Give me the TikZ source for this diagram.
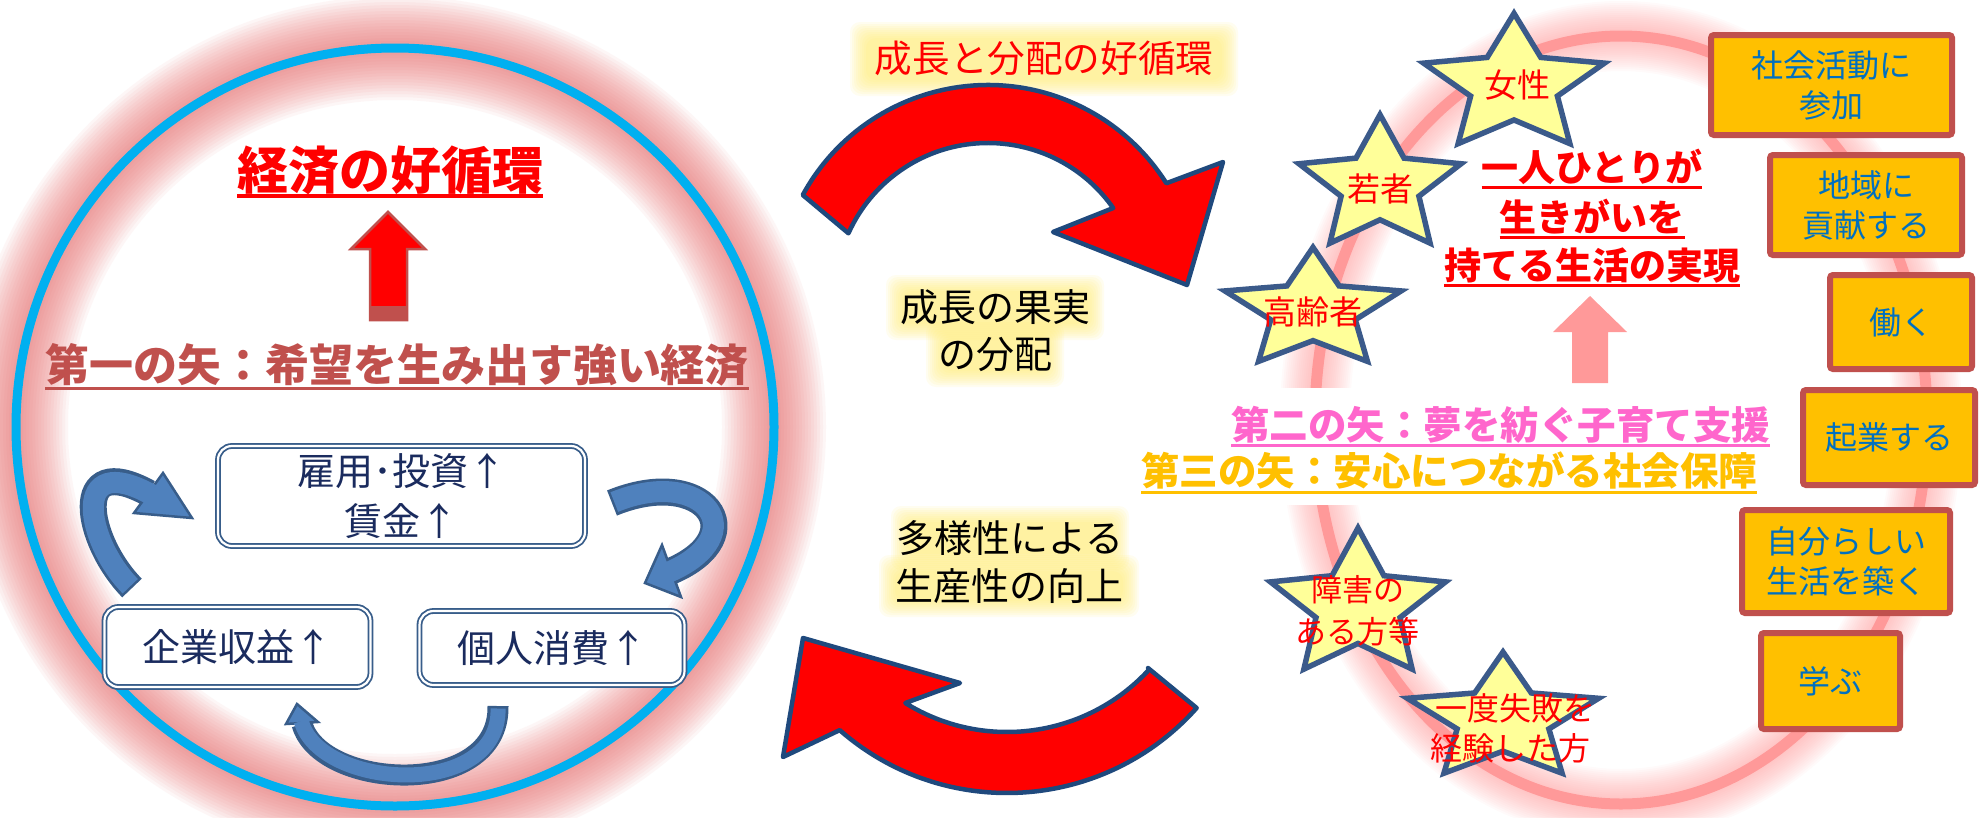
\documentclass[tikz,border=0pt]{standalone}
\usepackage{fontspec}
\setmainfont{Noto Sans CJK JP}
\usetikzlibrary{calc}
\definecolor{arrnavy}{HTML}{1F497D}
\definecolor{starfill}{HTML}{FFFF99}
\definecolor{stardraw}{HTML}{3B5A8A}
\definecolor{orfill}{HTML}{FFC000}
\definecolor{orborder}{HTML}{C0504D}
\definecolor{ortxt}{HTML}{0070C0}
\definecolor{boxblue}{HTML}{385D8A}
\definecolor{navytxt}{HTML}{1A2B5E}
\definecolor{darkred}{HTML}{C0504D}
\definecolor{ringblue}{HTML}{00B0F0}
\definecolor{glowpink}{RGB}{235,110,110}
\definecolor{glowpinkb}{RGB}{255,140,140}
\definecolor{ringpink}{HTML}{FF9999}
\definecolor{glowy}{RGB}{255,238,110}
\definecolor{magtxt}{HTML}{FF66CC}
\definecolor{yeltxt}{HTML}{FFC000}
\definecolor{bluedark}{HTML}{385D8A}
\definecolor{bluefill}{HTML}{4F81BD}
\newsavebox{\ulbox}
\newcommand{\ulx}[3]{\sbox{\ulbox}{#3}\rlap{\rule[-#1]{\wd\ulbox}{#2}}\usebox{\ulbox}}
\newcommand{\fsz}[2]{\fontsize{#1pt}{#2pt}\selectfont}
\newcommand{\drawstar}[4]{%
  \begin{scope}[shift={(#1,#2)}, xscale=#4]
    \pgfmathsetmacro{\rin}{0.48*#3}
    \draw[starsty] (-90:#3) -- (-54:\rin) -- (-18:#3) -- (18:\rin) -- (54:#3) -- (90:\rin) -- (126:#3) -- (162:\rin) -- (198:#3) -- (234:\rin) -- cycle;
  \end{scope}}
\newcommand{\glowrect}[4]{%
  \foreach \e in {16,14,...,0}
    \fill[glowy, opacity=0.1, rounded corners=10pt] (#1-\e,#2-\e) rectangle (#3+\e,#4+\e);}
\begin{document}
\begin{tikzpicture}[x=1pt,y=-1pt,
  every node/.style={inner sep=0pt, outer sep=0pt},
  redarr/.style={fill=red, draw=arrnavy, line width=4.5pt, line join=round},
  starsty/.style={fill=starfill, draw=stardraw, line width=5.5pt, line join=miter, miter limit=6},
  startxt/.style={text=red, font=\fsz{33}{41}, anchor=base},
  orbox/.style={rectangle, rounded corners=3pt, fill=orfill, draw=orborder, line width=6pt, text=ortxt, font=\fsz{32}{40}, align=center},
  lbox/.style={rectangle, rounded corners=14pt, fill=white, draw=boxblue, line width=1.8pt, double=white, double distance=2.2pt, text=navytxt, font=\fsz{38}{50}, align=center},
  midtxt/.style={font=\fsz{38}{47}, anchor=base},
  bandout/.style={draw=bluedark, line width=27pt},
  bandin/.style={draw=bluefill, line width=21pt, shorten >=-3pt, shorten <=2.5pt},
  bluehead/.style={fill=bluefill, draw=bluedark, line width=2.5pt, line join=miter}
]
\useasboundingbox (0,0) rectangle (1986,817);
\fill[white] (0,0) rectangle (1986,817);

% ---------- left circle with glow ----------
\coordinate (lc) at (395,427);
\foreach \w in {104,98,...,8}
  \draw[glowpink, line width=\w pt, opacity=0.06] (lc) circle[radius=379];
\draw[ringblue, line width=9pt] (lc) circle[radius=379];

% ---------- right ellipse ring with glow ----------
\coordinate (rc) at (1621,420);
\foreach \w in {70,66,...,14}
  \draw[glowpinkb, line width=\w pt, opacity=0.04] (rc) ellipse[x radius=306, y radius=384];
\draw[ringpink, line width=11pt] (rc) ellipse[x radius=306, y radius=384];
\fill[white] (1150,388) rectangle (1790,505);

% ---------- left circle content ----------
\node[anchor=base, text=red, font=\fsz{51}{60}\bfseries] (t1) at (390,189.4) {\ulx{8.3pt}{3.5pt}{経済の好循環}};
\draw[fill=red, draw=darkred, line width=2.5pt, line join=miter] (388,212) -- (425,249) -- (407,249) -- (407,320) -- (370,320) -- (370,249) -- (351,249) -- cycle;
\fill[darkred] (370,306) rectangle (407,321);
\node[anchor=base, text=darkred, font=\fsz{44}{52}\bfseries] (t2) at (397,381.5) {\ulx{8pt}{3pt}{第一の矢：希望を生み出す強い経済}};

\node[lbox, minimum width=367pt, minimum height=100pt] (kb) at (401.5,496) {雇用･投資↑\\賃金↑};
\node[lbox, minimum width=266pt, minimum height=80pt] (kg) at (237.5,647) {企業収益↑};
\node[lbox, minimum width=265pt, minimum height=74pt] (kj) at (552,648) {個人消費↑};

% blue curved arrows
\coordinate (aAs) at (132,588); \coordinate (aAe) at (148.5,493);
\draw[bandout] (aAs) .. controls (85,540) and (70,450) .. (aAe);
\filldraw[bluehead] (192,518) -- (163,473) -- (134,513) -- cycle;
\draw[bandin] (aAs) .. controls (85,540) and (70,450) .. (aAe);

\coordinate (aBs) at (612,503); \coordinate (aBe) at (671.5,571);
\draw[bandout] (aBs) .. controls (705,465) and (755,535) .. (aBe);
\filldraw[bluehead] (645,583) -- (662,545) -- (681,597) -- cycle;
\draw[bandin] (aBs) .. controls (705,465) and (755,535) .. (aBe);

\coordinate (aCs) at (498,706); \coordinate (aCe) at (302,724);
\draw[draw=bluedark, line width=21pt] (aCs) .. controls (500,800) and (320,790) .. (aCe);
\filldraw[bluehead] (297,704) -- (286,724) -- (318,722) -- cycle;
\draw[draw=bluefill, line width=15pt, shorten >=-3pt, shorten <=2.5pt] (aCs) .. controls (500,800) and (320,790) .. (aCe);

% ---------- middle ----------
\glowrect{866}{38}{1222}{80}
\node[midtxt, text=red, font=\fsz{37.6}{45}] (m1) at (1044,72.3) {成長と分配の好循環};
\draw[redarr] ([shift={(988,296)}]-151.4:211) arc[start angle=-151.4, end angle=-32.3, radius=211] -- (1223,162) -- (1187,285) -- (1053,232) -- ([shift={(988,296)}]-35.1:153) arc[start angle=-35.1, end angle=-155.8, radius=153] -- cycle;

\glowrect{902}{291}{1088}{324}
\glowrect{942}{338}{1048}{371}
\node[midtxt] (m2) at (995,321.4) {成長の果実};
\node[midtxt] (m3) at (995,368.4) {の分配};

\glowrect{907}{522}{1113}{554}
\glowrect{895}{571}{1123}{601}
\node[midtxt] (m4) at (1010,552.4) {多様性による};
\node[midtxt] (m5) at (1009,600.4) {生産性の向上};

\draw[redarr] (1148,668) -- ([shift={(1007,539)}]41.7:254) arc[start angle=41.7, end angle=131.2, radius=254] -- (783,757) -- (803,638) -- (960,683) -- ([shift={(1007,539)}]121.8:193) arc[start angle=121.8, end angle=42.5, radius=193] -- cycle;

% ---------- right side ----------
\fill[ringpink] (1590,296) -- (1627,332) -- (1608,332) -- (1608,383) -- (1572,383) -- (1572,332) -- (1553,332) -- cycle;

\node[anchor=base, text=red, font=\fsz{37}{45}\bfseries] (r1) at (1592,181) {\ulx{7.5pt}{3pt}{一人ひとりが}};
\node[anchor=base, text=red, font=\fsz{37}{45}\bfseries] (r2) at (1592,231) {\ulx{7.5pt}{3pt}{生きがいを}};
\node[anchor=base, text=red, font=\fsz{37}{45}\bfseries] (r3) at (1592,279) {\ulx{7.5pt}{3pt}{持てる生活の実現}};

\node[anchor=base east, text=magtxt, font=\fsz{38.5}{46}\bfseries] (y2) at (1770,439) {\ulx{7.5pt}{3pt}{第二の矢：夢を紡ぐ子育て支援}};
\node[anchor=base east, text=yeltxt, font=\fsz{38.5}{46}\bfseries] (y3) at (1757,485.5) {\ulx{8pt}{3pt}{第三の矢：安心につながる社会保障}};

% stars
\drawstar{1514}{85.4}{72}{1.32}
\drawstar{1380}{185.7}{71}{1.2}
\drawstar{1313}{310.4}{63}{1.47}
\drawstar{1358}{606}{78}{1.18}
\drawstar{1503}{719}{67}{1.5}
\node[startxt] (s1) at (1517,97.5) {女性};
\node[startxt] (s2) at (1380,201.5) {若者};
\node[startxt] (s3) at (1313,324.5) {高齢者};
\node[startxt, font=\fsz{31}{42}] (s4a) at (1358,601.8) {障害の};
\node[startxt, font=\fsz{31}{42}] (s4b) at (1357,643.8) {ある方等};
\node[startxt, font=\fsz{32}{40}] (s5a) at (1515,720) {一度失敗を};
\node[startxt, font=\fsz{32}{40}] (s5b) at (1510,760) {経験した方};

% orange boxes
\node[orbox, minimum width=241pt, minimum height=100pt] (b1) at (1831.5,85) {社会活動に\\参加};
\node[orbox, minimum width=192pt, minimum height=100pt] (b2) at (1866,205) {地域に\\貢献する};
\node[orbox, minimum width=142pt, minimum height=94pt] (b3) at (1901,322) {働く};
\node[orbox, minimum width=172pt, minimum height=95pt] (b4) at (1889,437.5) {起業する};
\node[orbox, minimum width=208pt, minimum height=103pt] (b5) at (1846,561.5) {自分らしい\\生活を築く};
\node[orbox, minimum width=139pt, minimum height=96pt] (b6) at (1830.5,681) {学ぶ};
\end{tikzpicture}
\end{document}
